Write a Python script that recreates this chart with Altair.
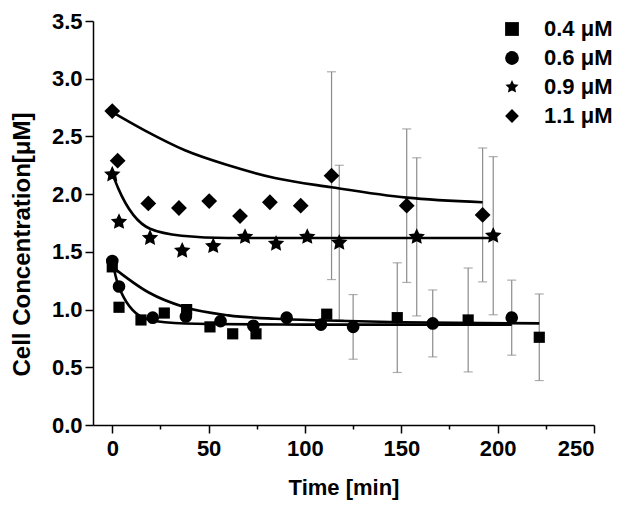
import altair as alt
import pandas as pd

series_names = ["0.4 μM", "0.6 μM", "0.9 μM", "1.1 μM"]
marker_area = [125, 160, 300, 250]

# measured points
t_04 = [0, 3.5, 14.9, 27, 38.6, 50.7, 62.5, 74.6, 111.3, 147.9, 184.7, 221.6]
y_04 = [1.37, 1.02, 0.91, 0.97, 1.00, 0.85, 0.79, 0.79, 0.96, 0.93, 0.91, 0.76]
e_04 = [0, 0, 0, 0, 0, 0, 0, 0, 0, 0.475, 0.45, 0.375]

t_06 = [0, 3.5, 21, 38.2, 56.2, 73.2, 90.5, 108.3, 125, 166.3, 207.3]
y_06 = [1.42, 1.20, 0.93, 0.94, 0.90, 0.86, 0.93, 0.87, 0.85, 0.88, 0.93]
e_06 = [0, 0, 0, 0, 0, 0, 0, 0, 0.28, 0.29, 0.325]

t_09 = [0, 3.5, 19.6, 36.3, 52.4, 68.9, 85, 101.2, 117.8, 158, 197.7]
y_09 = [2.17, 1.76, 1.62, 1.51, 1.55, 1.63, 1.57, 1.63, 1.58, 1.63, 1.64]
e_09 = [0, 0, 0, 0, 0, 0, 0, 0, 0.67, 0.685, 0.685]

t_11 = [0, 2.8, 18.7, 34.6, 50.3, 66.3, 81.8, 97.8, 113.8, 152.8, 192.2]
y_11 = [2.72, 2.29, 1.92, 1.88, 1.94, 1.81, 1.93, 1.90, 2.16, 1.90, 1.82]
e_11 = [0, 0, 0, 0, 0, 0, 0, 0, 0.9, 0.665, 0.58]

# model (fit) curves
fit_t_04 = [0, 18.7, 37.7, 60.2, 84.4, 111.3, 150, 221.6]
fit_y_04 = [1.37, 1.15, 1.02, 0.95, 0.92, 0.905, 0.89, 0.88]
fit_t_06 = [0, 3.1, 16, 27.3, 50, 100, 207.3]
fit_y_06 = [1.42, 1.21, 0.93, 0.89, 0.875, 0.87, 0.87]
fit_t_09 = [0, 3.1, 19.6, 36, 60, 197.7]
fit_y_09 = [2.18, 2.05, 1.70, 1.64, 1.62, 1.62]
fit_t_11 = [0, 17, 37.7, 60.2, 84.4, 113.7, 152.8, 192.2]
fit_y_11 = [2.71, 2.55, 2.38, 2.25, 2.14, 2.06, 1.97, 1.93]

x_ticks = [0, 25, 50, 75, 100, 125, 150, 175, 200, 225, 250]
y_ticks = [0, 0.25, 0.5, 0.75, 1.0, 1.25, 1.5, 1.75, 2.0, 2.25, 2.5, 2.75, 3.0, 3.25, 3.5]

star = ("M0,-1L0.28,-0.39L0.951,-0.309L0.46,0.15L0.588,0.809L0,0.5"
        "L-0.588,0.809L-0.46,0.15L-0.951,-0.309L-0.28,-0.39Z")

pts, fits, errs = [], [], []
for name, t, y, e in zip(series_names, [t_04, t_06, t_09, t_11],
                         [y_04, y_06, y_09, y_11], [e_04, e_06, e_09, e_11]):
    for a, b, c in zip(t, y, e):
        pts.append({"series": name, "t": a, "y": b})
        if c > 0:
            errs.append({"series": name, "t": a, "lo": b - c, "hi": b + c})
for name, t, y in zip(series_names, [fit_t_04, fit_t_06, fit_t_09, fit_t_11],
                      [fit_y_04, fit_y_06, fit_y_09, fit_y_11]):
    for a, b in zip(t, y):
        fits.append({"series": name, "t": a, "y": b})

pts = pd.DataFrame(pts)
fits = pd.DataFrame(fits)
errs = pd.DataFrame(errs)
caps = pd.concat([errs[["series", "t"]].assign(v=errs["lo"]),
                  errs[["series", "t"]].assign(v=errs["hi"])])

FONT = "Liberation Sans"
xscale = alt.Scale(domain=[-10, 250], nice=False, zero=False)
yscale = alt.Scale(domain=[0, 3.5], nice=False)

xaxis = alt.Axis(values=x_ticks, labelExpr="datum.value % 50 === 0 ? datum.label : ''",
                 tickSize={"condition": {"test": "datum.value % 50 === 0", "value": 8}, "value": 4},
                 title="Time [min]", grid=False)
yaxis = alt.Axis(values=y_ticks,
                 labelExpr="datum.value % 0.5 === 0 ? format(datum.value, '.1f') : ''",
                 tickSize={"condition": {"test": "datum.value % 0.5 === 0", "value": 8}, "value": 4},
                 title="Cell Concentration[μM]", grid=False,
                 titleX=-71, titleY=223, titleBaseline="middle", titleAlign="center",
                 titleAngle=270, titleFontSize=24)

x = alt.X("t:Q", scale=xscale, axis=xaxis)
y = alt.Y("y:Q", scale=yscale, axis=yaxis)

bars = alt.Chart(errs).mark_rule(color="#8c8c8c", strokeWidth=1.2).encode(
    x=alt.X("t:Q", scale=xscale), y=alt.Y("lo:Q", scale=yscale), y2="hi:Q")
capm = alt.Chart(caps).mark_tick(color="#8c8c8c", orient="horizontal", size=9, thickness=1.2).encode(
    x=alt.X("t:Q", scale=xscale), y=alt.Y("v:Q", scale=yscale))
lines = alt.Chart(fits).mark_line(color="black", strokeWidth=2.6, interpolate="monotone").encode(
    x=x, y=y, detail="series:N")

shape_enc = alt.Shape("series:N", scale=alt.Scale(domain=series_names,
                                                  range=["square", "circle", star, "diamond"]),
                      legend=alt.Legend(title=None, symbolSize=190))
point_layers = []
for name, sz in zip(series_names, marker_area):
    point_layers.append(
        alt.Chart(pts).transform_filter(alt.datum.series == name)
        .mark_point(filled=True, color="black", opacity=1, strokeWidth=0, size=sz)
        .encode(x=x, y=y, shape=shape_enc)
    )

chart = alt.layer(bars, capm, lines, *point_layers).properties(
    width=501, height=404,
    padding={"left": 85, "top": 13, "right": 27, "bottom": 80},
    autosize=alt.AutoSizeParams(type="none"),
).configure_view(stroke=None).configure_axis(
    domainColor="black", domainWidth=1.5, tickColor="black", tickWidth=1.5,
    labelFont=FONT, labelFontSize=22, labelFontWeight="bold", labelColor="black",
    titleFont=FONT, titleFontSize=22, titleFontWeight="bold", titleColor="black",
).configure_axisX(labelPadding=5, titlePadding=18).configure_axisY(
    labelPadding=3
).configure_legend(
    orient="none", legendX=408, legendY=-3, padding=0,
    labelFont=FONT, labelFontSize=22, labelFontWeight="bold", labelColor="black",
    labelOffset=21, rowPadding=7, symbolSize=190,
)

chart.save("out.html", embed_options={"renderer": "svg", "actions": False})
